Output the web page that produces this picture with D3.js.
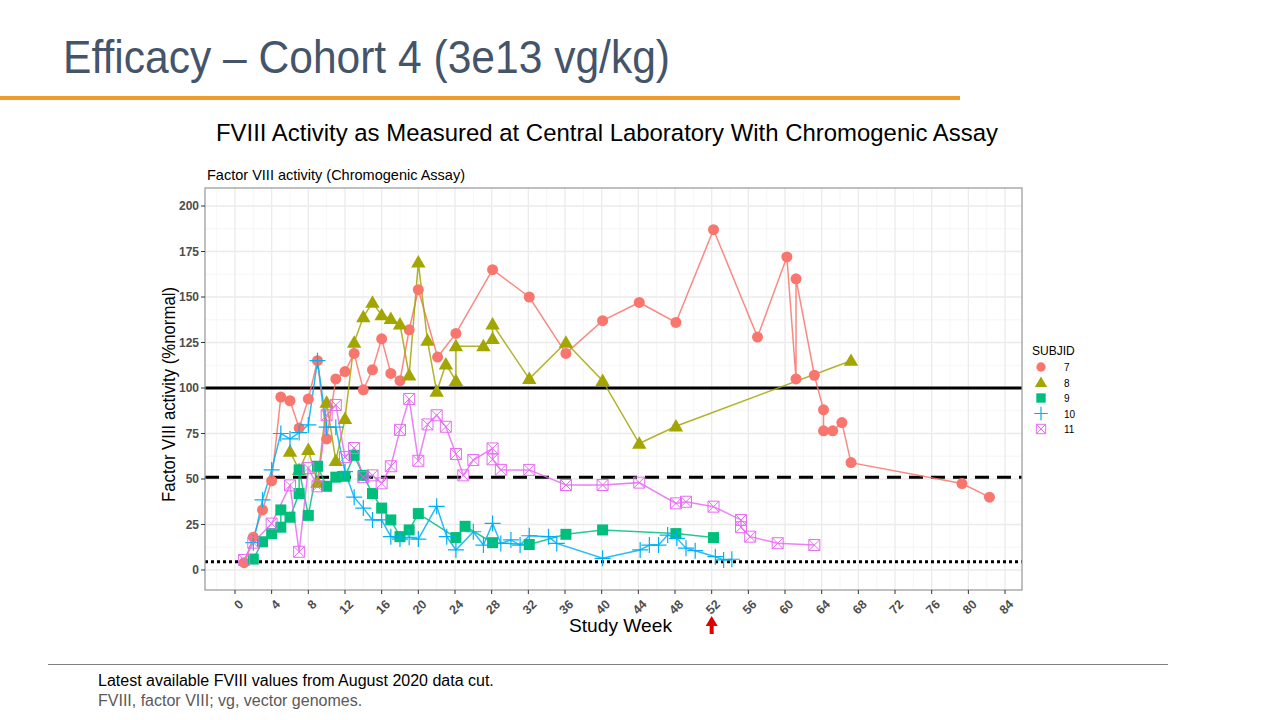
<!DOCTYPE html>
<html><head><meta charset="utf-8">
<script src="https://cdn.jsdelivr.net/npm/d3@7"></script>
<style>
html,body{margin:0;padding:0;background:#fff;}
svg text{font-family:"Liberation Sans",Arial,sans-serif;}
</style></head>
<body>
<svg id="c" width="1280" height="720"></svg>
<script>
// ---- data ----
const subjects = ["7","8","9","10","11"];
const colors = ["#F8766D","#A3A500","#00BF7D","#00B0F6","#E76BF3"];
const weeks7 = [1,2,3,4,5,6,7,8,9,10,11,12,13,14,15,16,17,18,19,20,22.1,24.1,28.1,32.1,36.1,40.1,44.1,48.1,52.2,57,60.2,61.2,61.2,63.2,64.2,64.2,65.2,66.2,67.2,79.3,82.3];
const vals7  = [4,18,33,49,95,93,78,94,115,72,105,109,119,99,110,127,108,104,132,154,117,130,165,150,119,137,147,136,187,128,172,105,160,107,88,76.5,76.5,81,59,47.5,40];
const weeks8 = [6,7,8,9,10,11,12,13,14,15,16,17,18,19,20,21,22,23,24.1,24.1,27.1,28.1,28.1,32.1,36.1,40.1,44.1,48.1,67.2];
const vals8  = [65,55,66,48,92,60,83,125,139,147,140,138,135,107,169,126,98,113,104,123,123,127,135,105,125,104,69.5,79,115];
const weeks9 = [2,3,4,5,5,6,7,7,8,9,10,11,12,13,14,15,16,17,18,19,20,24.1,25.1,28.1,32.1,36.1,40.1,48.1,52.2];
const vals9  = [6,15.5,20,23.5,33,29,42,55,30,57,46,51,51.5,63,52,42,34,27.5,18.3,22,31,17.8,24,15,14,19.6,22,20,17.8];
const weeks10 = [2,3,4,5,6,7,8,9,10,11,12,13,14,15,16,17,18,19,20,22,23.1,24.1,26,27.1,28.1,29,30.1,31.1,32.1,34.2,35.1,40.1,44.2,45.2,46.2,47.2,48.2,49.2,50.2,52.4,53.3,54.2];
const vals10  = [15,38.5,55,75,72,75.5,79.7,115,78.5,78.5,54,40,34,27.5,27.5,18.3,17,18,17,35,18.3,11,21,13.7,25.6,14.6,16.5,13.7,18.8,18.3,14.6,6.4,11,13.7,13.7,19.2,17.4,12,10.6,7.3,5.5,5.9];
const weeks11 = [1,2,4,6,7,8,9,10,11,12,13,14,15,16,17,18,19,20,21,22,23,24.1,24.9,26,28.1,28.1,29,32.1,36.1,40.1,44.1,48.1,49.2,52.2,55.2,55.2,56.2,59.2,63.2];
const vals11  = [5.5,15,25.5,46.5,10,56,46,85,90.7,62,67,51,52,47.6,57,77,94,60,80,85,78.7,63.7,52,60.4,66.8,60.8,55,55,46.7,46.7,48,36.6,37.5,34.8,27.5,23.5,18.3,14.7,13.7];
const xTicks = d3.range(0, 85, 4);
const yTicks = [0,25,50,75,100,125,150,175,200];
const refLines = [100, 51, 4.5];

const series = [
  {id:"7", w:weeks7, v:vals7},
  {id:"8", w:weeks8, v:vals8},
  {id:"9", w:weeks9, v:vals9},
  {id:"10", w:weeks10, v:vals10},
  {id:"11", w:weeks11, v:vals11}
];

const svg = d3.select("#c");
const L=205, R=1022, T=188, B=590;
const x = d3.scaleLinear().domain([-3.27, 85.85]).range([L, R]);
const y = d3.scaleLinear().domain([-11, 209.9]).range([B, T]);
const col = d3.scaleOrdinal().domain(subjects).range(colors);

// slide title
svg.append("text").attr("x",63).attr("y",73).attr("font-size",46).attr("fill","#44546A")
  .attr("textLength",607).attr("lengthAdjust","spacingAndGlyphs").text("Efficacy – Cohort 4 (3e13 vg/kg)");
svg.append("rect").attr("x",0).attr("y",96).attr("width",960).attr("height",4).attr("fill","#EE9B2C");
svg.append("text").attr("x",216).attr("y",141).attr("font-size",24.5).attr("fill","#000")
  .attr("textLength",782).attr("lengthAdjust","spacingAndGlyphs").text("FVIII Activity as Measured at Central Laboratory With Chromogenic Assay");
svg.append("text").attr("x",207).attr("y",180).attr("font-size",14.5).attr("fill","#000")
  .attr("textLength",258).attr("lengthAdjust","spacingAndGlyphs").text("Factor VIII activity (Chromogenic Assay)");

// panel
svg.append("rect").attr("x",L).attr("y",T).attr("width",R-L).attr("height",B-T).attr("fill","#fff");
const g = svg.append("g");
// minor grid
const xMinor = d3.range(-2, 86, 4);
const yMinor = d3.range(-12.5, 210, 25).filter(v=>v>-11);
g.selectAll(".xm").data(xMinor).enter().append("line").attr("x1",d=>x(d)).attr("x2",d=>x(d)).attr("y1",T).attr("y2",B).attr("stroke","#F2F2F2").attr("stroke-width",0.7);
g.selectAll(".ym").data(yMinor).enter().append("line").attr("y1",d=>y(d)).attr("y2",d=>y(d)).attr("x1",L).attr("x2",R).attr("stroke","#F2F2F2").attr("stroke-width",0.7);
g.selectAll(".xM").data(xTicks).enter().append("line").attr("x1",d=>x(d)).attr("x2",d=>x(d)).attr("y1",T).attr("y2",B).attr("stroke","#EBEBEB").attr("stroke-width",1.3);
g.selectAll(".yM").data(yTicks).enter().append("line").attr("y1",d=>y(d)).attr("y2",d=>y(d)).attr("x1",L).attr("x2",R).attr("stroke","#EBEBEB").attr("stroke-width",1.3);

// reference lines
const dash = ["", "14,8", "3,3"];
refLines.forEach((v,i)=>{
  g.append("line").attr("x1",L).attr("x2",R).attr("y1",y(v)).attr("y2",y(v))
   .attr("stroke","#000").attr("stroke-width",3).attr("stroke-dasharray",dash[i]);
});

// lines
const line = d3.line().x(d=>x(d[0])).y(d=>y(d[1]));
series.forEach(s=>{
  const pts = s.w.map((w,i)=>[w,s.v[i]]);
  g.append("path").datum(pts).attr("d",line).attr("fill","none").attr("stroke",col(s.id)).attr("stroke-width",1.5).attr("stroke-opacity",0.85);
});

// symbols
function drawSym(sel, id, cx, cy, scale){
  const c = col(id);
  const k = scale||1;
  if(id==="7") sel.append("circle").attr("cx",cx).attr("cy",cy).attr("r",5.5*k).attr("fill",c);
  else if(id==="8") sel.append("path").attr("d",d3.symbol(d3.symbolTriangle,90*k*k)()).attr("transform",`translate(${cx},${cy+1})`).attr("fill",c);
  else if(id==="9") sel.append("rect").attr("x",cx-5.5*k).attr("y",cy-5.5*k).attr("width",11*k).attr("height",11*k).attr("fill",c);
  else if(id==="10") {
    const a=8*k;
    sel.append("path").attr("d",`M${cx-a},${cy}H${cx+a}M${cx},${cy-a}V${cy+a}`).attr("stroke",c).attr("stroke-width",1.2).attr("fill","none");
  } else {
    const a=5.5*k;
    sel.append("path").attr("d",`M${cx-a},${cy-a}H${cx+a}V${cy+a}H${cx-a}ZM${cx-a},${cy-a}L${cx+a},${cy+a}M${cx+a},${cy-a}L${cx-a},${cy+a}`).attr("stroke",c).attr("stroke-width",1).attr("fill","none");
  }
}
series.forEach(s=>{
  const gp = g.append("g");
  s.w.forEach((w,i)=>drawSym(gp, s.id, x(w), y(s.v[i]), 1));
});

// border
svg.append("rect").attr("x",L).attr("y",T).attr("width",R-L).attr("height",B-T).attr("fill","none").attr("stroke","#9E9E9E").attr("stroke-width",1.3);

// y axis
const ya = svg.append("g");
yTicks.forEach(v=>{
  ya.append("line").attr("x1",L-4).attr("x2",L).attr("y1",y(v)).attr("y2",y(v)).attr("stroke","#333");
  ya.append("text").attr("x",L-6).attr("y",y(v)+4.3).attr("text-anchor","end").attr("font-size",12).attr("font-weight","bold").attr("fill","#4D4D4D").text(v);
});
// x axis
xTicks.forEach(v=>{
  ya.append("line").attr("x1",x(v)).attr("x2",x(v)).attr("y1",B).attr("y2",B+4).attr("stroke","#333");
  ya.append("text").attr("transform",`translate(${x(v)+3},${B+9}) rotate(-45)`).attr("text-anchor","end").attr("dy","0.7em").attr("font-size",12.5).attr("font-weight","bold").attr("fill","#4D4D4D").text(v);
});
svg.append("text").attr("x",569).attr("y",632).attr("font-size",19).attr("fill","#000")
  .attr("textLength",103).attr("lengthAdjust","spacingAndGlyphs").text("Study Week");
svg.append("text").attr("transform","translate(175,502) rotate(-90)").attr("font-size",19).attr("fill","#000")
  .attr("textLength",215).attr("lengthAdjust","spacingAndGlyphs").text("Factor VIII activity (%normal)");

// legend
const lg = svg.append("g");
lg.append("text").attr("x",1032).attr("y",355).attr("font-size",12).attr("fill","#000").text("SUBJID");
subjects.forEach((s,i)=>{
  const cy = 367 + i*15.5;
  drawSym(lg, s, 1041, cy, 0.85);
  lg.append("text").attr("x",1064).attr("y",cy+4).attr("font-size",10).attr("fill","#000").text(s);
});

// red arrow
svg.append("path").attr("d",`M${x(52)},616 L${x(52)+6},626 L${x(52)+2},626 L${x(52)+2},634 L${x(52)-2},634 L${x(52)-2},626 L${x(52)-6},626 Z`).attr("fill","#E00000");

// footer
svg.append("line").attr("x1",48).attr("x2",1168).attr("y1",664.5).attr("y2",664.5).attr("stroke","#7F7F7F").attr("stroke-width",1);
svg.append("text").attr("x",98).attr("y",686).attr("font-size",16).attr("fill","#000").text("Latest available FVIII values from August 2020 data cut.");
svg.append("text").attr("x",98).attr("y",706).attr("font-size",16).attr("fill","#595959").text("FVIII, factor VIII; vg, vector genomes.");
</script>
</body></html>
